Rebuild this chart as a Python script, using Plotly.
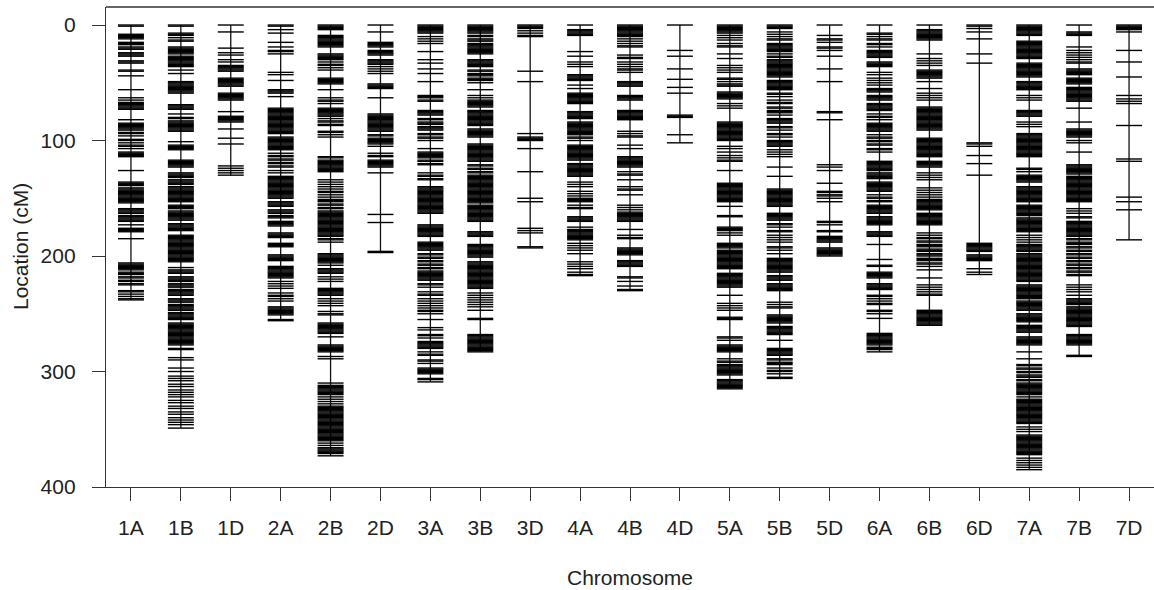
import plotly.graph_objects as go

# Chromosome names and linkage-group lengths (cM)
chromosomes = ["1A", "1B", "1D", "2A", "2B", "2D", "3A", "3B", "3D", "4A", "4B",
               "4D", "5A", "5B", "5D", "6A", "6B", "6D", "7A", "7B", "7D"]
lengths = [238, 349, 130, 256, 373, 197, 309, 283, 193, 217, 230,
           102, 315, 306, 200, 283, 260, 216, 385, 287, 186]
y_ticks = [0, 100, 200, 300, 400]

# Marker positions (cM) on each chromosome
m_1A = [0, 1, 8, 9, 10, 11, 12, 15, 16, 17, 19, 20, 21, 24, 25, 26, 27, 31, 32, 33, 39, 40, 44, 56,
        63, 65, 67, 68, 69, 70, 71, 72, 73, 82, 85, 86, 87, 88, 89, 90, 91, 93, 94, 96, 99, 100, 102,
        104, 105, 107, 110, 111, 112, 113, 114, 126, 136, 137, 138, 139, 141, 142, 143, 144, 145, 146,
        147, 148, 149, 150, 151, 152, 153, 154, 159, 160, 161, 162, 163, 165, 166, 167, 168, 169, 170,
        173, 176, 177, 178, 179, 185, 206, 207, 208, 209, 210, 211, 212, 214, 215, 216, 218, 219, 221,
        222, 224, 225, 230, 231, 233, 235, 237, 238]
m_1B = [0, 1, 7, 8, 9, 11, 13, 14, 19, 20, 21, 22, 23, 24, 25, 27, 28, 29, 30, 31, 32, 33, 34, 35, 36,
        39, 42, 49, 50, 51, 52, 53, 54, 55, 56, 57, 58, 59, 69, 70, 71, 72, 73, 77, 80, 81, 83, 84, 85,
        86, 87, 88, 89, 90, 91, 92, 101, 104, 105, 106, 107, 108, 117, 118, 119, 120, 121, 122, 123,
        128, 129, 130, 131, 132, 134, 135, 136, 137, 138, 140, 141, 142, 143, 144, 145, 146, 147, 148,
        149, 150, 151, 152, 153, 156, 157, 158, 159, 161, 162, 163, 164, 165, 166, 167, 168, 169, 172,
        173, 174, 175, 176, 177, 178, 182, 183, 184, 185, 186, 187, 188, 189, 190, 191, 192, 193, 194,
        195, 196, 197, 198, 199, 200, 201, 202, 203, 204, 205, 210, 212, 213, 214, 215, 218, 219, 220,
        221, 222, 224, 225, 226, 227, 229, 230, 231, 232, 233, 234, 237, 238, 239, 240, 242, 243, 244,
        245, 246, 247, 249, 250, 251, 252, 253, 254, 255, 258, 259, 260, 261, 262, 263, 264, 265, 266,
        267, 268, 269, 270, 271, 272, 273, 274, 275, 276, 277, 280, 281, 288, 290, 297, 300, 304, 306,
        308, 311, 313, 316, 318, 320, 322, 325, 327, 330, 332, 335, 337, 340, 342, 344, 346, 349]
m_1D = [0, 6, 20, 24, 26, 30, 32, 35, 36, 37, 38, 39, 40, 46, 47, 48, 49, 50, 51, 52, 53, 59, 60, 61,
        62, 63, 64, 65, 75, 79, 80, 81, 82, 83, 84, 90, 98, 103, 122, 124, 126, 128, 130]
m_2A = [0, 1, 4, 7, 15, 19, 22, 23, 25, 41, 43, 48, 56, 57, 58, 59, 62, 72, 73, 74, 75, 76, 77, 78, 79,
        80, 81, 82, 83, 84, 85, 86, 87, 88, 89, 90, 91, 92, 93, 94, 97, 98, 99, 100, 101, 102, 103, 104,
        105, 106, 107, 108, 111, 113, 114, 116, 117, 119, 120, 122, 123, 126, 128, 131, 132, 133, 134,
        135, 136, 137, 138, 139, 140, 141, 142, 143, 144, 145, 146, 147, 148, 149, 150, 153, 154, 155,
        156, 157, 160, 161, 162, 163, 165, 166, 167, 170, 171, 172, 173, 174, 180, 181, 182, 183, 184,
        189, 190, 191, 192, 199, 200, 201, 202, 203, 204, 209, 210, 211, 212, 213, 214, 215, 216, 217,
        218, 219, 222, 224, 226, 228, 232, 234, 235, 237, 239, 244, 245, 246, 247, 248, 249, 250, 251,
        255, 256]
m_2B = [0, 1, 2, 3, 4, 9, 10, 11, 12, 13, 14, 15, 16, 17, 18, 19, 25, 26, 27, 28, 29, 30, 32, 34, 35,
        37, 39, 46, 47, 48, 49, 50, 51, 56, 63, 65, 66, 68, 72, 73, 74, 75, 76, 77, 78, 79, 81, 83, 84,
        86, 87, 92, 93, 95, 97, 114, 115, 117, 118, 119, 120, 121, 122, 123, 124, 125, 126, 127, 134,
        136, 138, 140, 142, 144, 145, 147, 149, 151, 152, 153, 155, 156, 158, 159, 161, 162, 163, 164,
        165, 166, 167, 168, 169, 170, 171, 172, 173, 174, 175, 176, 177, 178, 179, 180, 181, 182, 183,
        185, 186, 188, 198, 199, 200, 201, 202, 203, 204, 205, 206, 208, 211, 212, 213, 214, 215, 218,
        220, 222, 228, 229, 230, 231, 232, 233, 234, 237, 239, 241, 243, 248, 250, 251, 258, 259, 260,
        261, 262, 263, 264, 265, 266, 267, 270, 277, 278, 279, 280, 281, 282, 283, 287, 289, 310, 312,
        313, 314, 315, 316, 317, 318, 319, 320, 322, 324, 326, 328, 330, 331, 332, 333, 334, 335, 336,
        337, 338, 339, 340, 341, 342, 343, 344, 345, 346, 347, 348, 349, 350, 351, 352, 353, 354, 355,
        356, 357, 358, 359, 360, 362, 364, 366, 367, 368, 369, 370, 371, 373]
m_2D = [0, 6, 15, 16, 17, 18, 19, 22, 23, 24, 25, 26, 30, 31, 32, 33, 34, 36, 38, 40, 42, 51, 52, 53,
        54, 55, 63, 77, 78, 79, 80, 81, 82, 83, 84, 85, 86, 87, 88, 89, 90, 91, 92, 95, 96, 98, 99, 100,
        101, 102, 103, 105, 111, 113, 114, 117, 118, 119, 120, 121, 122, 123, 128, 164, 171, 196, 197]
m_3A = [0, 1, 2, 3, 4, 5, 6, 7, 10, 12, 14, 16, 23, 30, 33, 38, 42, 49, 61, 62, 63, 65, 66, 74, 75, 76,
        77, 78, 81, 82, 84, 85, 86, 88, 89, 90, 91, 94, 95, 97, 98, 100, 107, 110, 111, 112, 113, 114,
        115, 117, 118, 120, 121, 128, 130, 131, 133, 134, 140, 141, 142, 143, 144, 145, 146, 147, 148,
        149, 150, 151, 152, 153, 154, 155, 156, 157, 158, 159, 160, 161, 162, 163, 173, 174, 175, 176,
        177, 178, 179, 180, 181, 182, 183, 188, 189, 190, 191, 192, 193, 194, 195, 198, 199, 201, 202,
        204, 205, 207, 208, 210, 211, 213, 214, 215, 216, 217, 218, 219, 220, 221, 224, 225, 227, 231,
        233, 234, 237, 239, 241, 243, 245, 247, 248, 250, 255, 262, 264, 268, 269, 271, 274, 275, 276,
        277, 278, 279, 280, 283, 285, 286, 290, 291, 293, 297, 298, 299, 300, 301, 302, 306, 307, 309]
m_3B = [0, 1, 2, 3, 4, 5, 6, 7, 9, 10, 12, 13, 14, 16, 17, 18, 19, 20, 21, 22, 23, 24, 25, 30, 31, 32,
        33, 34, 35, 36, 39, 40, 42, 43, 44, 46, 47, 48, 50, 56, 61, 63, 65, 66, 67, 68, 69, 70, 71, 74,
        75, 76, 77, 78, 79, 80, 81, 82, 83, 84, 85, 86, 87, 90, 91, 92, 93, 94, 95, 96, 97, 103, 104,
        105, 106, 107, 108, 109, 110, 111, 112, 113, 114, 115, 116, 117, 118, 121, 122, 124, 125, 127,
        128, 130, 131, 132, 133, 134, 135, 136, 137, 138, 139, 140, 141, 142, 143, 144, 145, 146, 147,
        148, 149, 150, 151, 152, 153, 154, 156, 157, 158, 159, 160, 161, 162, 163, 164, 165, 166, 167,
        168, 169, 170, 179, 180, 181, 182, 183, 190, 191, 192, 193, 194, 195, 196, 197, 198, 199, 200,
        201, 205, 206, 207, 208, 209, 210, 211, 212, 213, 214, 215, 216, 217, 218, 219, 220, 221, 222,
        223, 224, 225, 226, 227, 228, 232, 234, 236, 238, 240, 242, 244, 247, 254, 255, 268, 269, 270,
        271, 272, 273, 274, 275, 276, 277, 278, 279, 280, 281, 282, 283]
m_3D = [0, 1, 2, 3, 5, 7, 9, 10, 40, 49, 94, 97, 98, 99, 100, 107, 127, 150, 153, 176, 178, 180, 192,
        193]
m_4A = [0, 4, 5, 6, 7, 8, 9, 23, 27, 32, 34, 36, 43, 44, 45, 46, 47, 48, 52, 55, 59, 60, 61, 62, 63,
        64, 65, 66, 67, 68, 75, 76, 77, 78, 79, 80, 81, 84, 85, 86, 87, 88, 89, 90, 91, 92, 93, 94, 95,
        97, 98, 100, 104, 105, 106, 107, 108, 109, 110, 111, 112, 113, 114, 115, 116, 117, 120, 121,
        122, 123, 124, 125, 126, 127, 128, 129, 130, 131, 136, 138, 140, 144, 146, 148, 150, 151, 152,
        153, 156, 158, 159, 166, 167, 168, 169, 170, 175, 177, 178, 179, 180, 181, 182, 183, 184, 185,
        186, 189, 191, 193, 195, 198, 205, 207, 209, 211, 214, 216, 217]
m_4B = [0, 1, 2, 3, 4, 5, 6, 7, 8, 9, 10, 12, 14, 16, 18, 19, 26, 28, 29, 32, 34, 36, 38, 39, 41, 49,
        50, 51, 52, 53, 61, 62, 63, 64, 65, 74, 75, 76, 77, 78, 79, 80, 81, 82, 92, 94, 96, 97, 104,
        107, 114, 115, 116, 117, 118, 119, 120, 121, 122, 123, 127, 129, 130, 134, 140, 142, 143, 147,
        156, 158, 160, 162, 163, 164, 165, 166, 167, 168, 169, 170, 177, 182, 184, 185, 193, 194, 195,
        196, 197, 198, 199, 204, 205, 206, 207, 208, 209, 218, 219, 222, 226, 229, 230]
m_4D = [0, 22, 27, 38, 47, 54, 59, 78, 79, 80, 95, 102]
m_5A = [0, 1, 2, 3, 4, 5, 6, 7, 9, 11, 13, 16, 18, 19, 25, 29, 35, 37, 39, 41, 46, 47, 49, 51, 52, 53,
        58, 59, 60, 61, 62, 63, 64, 68, 70, 72, 84, 85, 86, 87, 88, 89, 90, 91, 92, 93, 94, 95, 96, 97,
        98, 99, 100, 105, 107, 110, 113, 115, 117, 118, 126, 137, 138, 139, 140, 141, 142, 143, 144,
        145, 146, 147, 148, 149, 150, 151, 152, 153, 157, 165, 166, 175, 176, 177, 178, 180, 182, 189,
        190, 191, 192, 193, 195, 196, 197, 198, 199, 200, 201, 202, 203, 204, 205, 206, 207, 208, 209,
        210, 211, 215, 216, 217, 218, 219, 220, 221, 222, 223, 224, 225, 226, 227, 234, 241, 243, 245,
        247, 253, 254, 255, 270, 271, 273, 277, 278, 279, 280, 281, 282, 283, 289, 291, 292, 294, 295,
        296, 297, 298, 299, 300, 301, 302, 303, 307, 308, 309, 310, 311, 312, 313, 314, 315]
m_5B = [0, 1, 2, 3, 6, 8, 10, 12, 13, 16, 17, 18, 19, 20, 21, 22, 23, 25, 27, 28, 30, 31, 32, 33, 34,
        35, 36, 37, 38, 39, 40, 41, 42, 43, 44, 45, 48, 49, 50, 51, 52, 53, 54, 55, 56, 59, 60, 62, 65,
        67, 68, 71, 72, 74, 75, 76, 78, 81, 82, 83, 84, 85, 88, 89, 91, 94, 95, 97, 100, 101, 102, 103,
        104, 105, 108, 110, 112, 114, 123, 131, 142, 143, 144, 145, 146, 147, 148, 149, 150, 151, 152,
        153, 154, 155, 156, 157, 163, 164, 165, 166, 167, 168, 169, 172, 173, 175, 178, 179, 182, 184,
        186, 188, 192, 193, 195, 198, 202, 203, 204, 205, 206, 207, 208, 209, 210, 211, 212, 213, 214,
        217, 218, 219, 220, 221, 224, 225, 226, 227, 228, 229, 230, 240, 242, 244, 245, 251, 252, 253,
        254, 255, 256, 257, 258, 261, 262, 263, 264, 265, 266, 267, 268, 273, 280, 281, 282, 283, 284,
        285, 286, 289, 290, 292, 293, 294, 297, 299, 300, 302, 305, 306]
m_5D = [0, 9, 12, 13, 15, 19, 20, 22, 27, 38, 49, 75, 76, 82, 121, 123, 126, 137, 144, 145, 147, 148,
        150, 153, 170, 171, 173, 178, 179, 183, 184, 185, 186, 187, 188, 193, 194, 195, 196, 197, 198,
        199, 200]
m_6A = [0, 7, 8, 10, 12, 13, 16, 17, 19, 22, 23, 24, 25, 26, 27, 28, 32, 33, 34, 35, 36, 41, 43, 46,
        48, 50, 52, 55, 56, 57, 58, 61, 62, 63, 64, 65, 68, 69, 70, 71, 72, 73, 74, 77, 79, 80, 82, 85,
        86, 87, 88, 89, 90, 91, 92, 95, 97, 98, 100, 101, 103, 104, 107, 108, 110, 118, 119, 120, 121,
        122, 123, 124, 125, 126, 128, 129, 130, 131, 132, 133, 136, 137, 138, 139, 140, 141, 142, 143,
        144, 147, 149, 150, 152, 153, 156, 157, 158, 159, 160, 161, 162, 163, 166, 167, 168, 169, 170,
        171, 172, 173, 179, 180, 181, 182, 183, 190, 203, 208, 209, 214, 215, 216, 217, 218, 219, 224,
        225, 226, 227, 228, 229, 234, 235, 237, 239, 241, 242, 247, 248, 250, 254, 267, 268, 269, 270,
        271, 272, 273, 274, 275, 276, 277, 279, 280, 281, 283]
m_6B = [0, 4, 5, 6, 7, 8, 9, 10, 11, 12, 13, 25, 29, 31, 33, 35, 39, 40, 41, 42, 43, 44, 45, 46, 49,
        55, 59, 61, 63, 65, 71, 72, 73, 74, 75, 76, 77, 78, 79, 80, 81, 82, 83, 84, 85, 86, 87, 88, 89,
        90, 91, 98, 99, 100, 101, 102, 103, 104, 105, 106, 107, 108, 109, 110, 111, 112, 113, 114, 118,
        119, 120, 121, 122, 123, 128, 130, 132, 134, 141, 143, 145, 147, 149, 151, 152, 153, 154, 155,
        156, 157, 158, 159, 160, 163, 164, 165, 166, 167, 168, 169, 170, 171, 172, 173, 180, 182, 184,
        185, 187, 188, 190, 191, 192, 194, 195, 196, 198, 199, 200, 202, 203, 204, 206, 207, 209, 212,
        219, 225, 227, 229, 231, 233, 234, 247, 248, 249, 250, 251, 252, 253, 254, 255, 256, 257, 258,
        259, 260]
m_6D = [0, 1, 3, 6, 12, 25, 33, 102, 103, 105, 113, 120, 130, 189, 190, 191, 192, 193, 194, 195, 196,
        199, 200, 201, 202, 203, 204, 211, 214, 216]
m_7A = [0, 1, 2, 3, 4, 5, 6, 7, 8, 9, 14, 15, 16, 17, 18, 19, 20, 21, 22, 23, 24, 25, 26, 27, 28, 29,
        33, 34, 35, 36, 37, 38, 39, 40, 41, 42, 43, 44, 45, 49, 50, 51, 52, 53, 54, 55, 56, 61, 63, 65,
        74, 75, 76, 77, 78, 79, 84, 86, 88, 94, 95, 96, 97, 98, 99, 100, 101, 102, 103, 104, 105, 106,
        107, 108, 109, 110, 111, 112, 113, 114, 124, 125, 127, 130, 131, 132, 133, 134, 135, 136, 140,
        141, 142, 143, 144, 145, 146, 147, 148, 149, 150, 151, 152, 153, 156, 157, 158, 159, 160, 161,
        162, 163, 164, 165, 167, 168, 169, 170, 171, 172, 173, 174, 175, 176, 177, 178, 179, 182, 184,
        186, 188, 190, 191, 192, 193, 194, 195, 196, 198, 199, 200, 201, 202, 203, 204, 205, 206, 207,
        208, 209, 210, 211, 212, 213, 214, 215, 216, 217, 218, 219, 220, 221, 222, 225, 226, 227, 228,
        229, 230, 231, 232, 233, 234, 235, 236, 237, 239, 240, 241, 242, 243, 244, 245, 246, 247, 250,
        251, 252, 253, 254, 255, 256, 257, 260, 261, 262, 263, 264, 265, 266, 270, 271, 272, 273, 274,
        275, 276, 277, 283, 289, 294, 295, 297, 298, 300, 301, 303, 304, 305, 307, 308, 310, 311, 312,
        313, 314, 315, 316, 317, 318, 319, 320, 322, 324, 325, 326, 327, 328, 329, 330, 331, 332, 333,
        334, 335, 336, 337, 338, 339, 340, 341, 342, 343, 344, 345, 348, 350, 352, 355, 356, 357, 358,
        359, 360, 361, 362, 363, 364, 365, 366, 367, 368, 369, 370, 371, 372, 375, 377, 379, 381, 383,
        385]
m_7B = [0, 6, 7, 8, 9, 19, 22, 24, 26, 28, 30, 32, 33, 38, 39, 40, 41, 42, 43, 46, 47, 48, 49, 50, 51,
        54, 55, 56, 57, 58, 59, 60, 61, 62, 63, 64, 65, 66, 72, 84, 90, 91, 92, 93, 94, 95, 96, 97, 100,
        102, 110, 121, 122, 123, 124, 125, 126, 127, 128, 129, 131, 132, 133, 134, 135, 136, 137, 138,
        139, 140, 141, 142, 143, 144, 145, 146, 147, 148, 149, 150, 151, 152, 153, 159, 161, 163, 166,
        167, 170, 171, 172, 173, 174, 175, 176, 177, 178, 179, 180, 181, 182, 183, 185, 186, 188, 189,
        190, 192, 193, 195, 196, 198, 199, 201, 202, 204, 205, 207, 208, 210, 211, 213, 214, 216, 217,
        225, 227, 229, 231, 234, 237, 238, 239, 240, 241, 242, 244, 245, 246, 247, 248, 249, 250, 251,
        252, 253, 254, 255, 256, 257, 258, 259, 260, 261, 268, 269, 270, 271, 272, 273, 274, 275, 276,
        277, 286, 287]
m_7D = [0, 1, 2, 3, 4, 6, 22, 32, 45, 61, 64, 66, 68, 87, 116, 118, 149, 153, 160, 186]

markers = [m_1A, m_1B, m_1D, m_2A, m_2B, m_2D, m_3A, m_3B, m_3D, m_4A, m_4B,
           m_4D, m_5A, m_5B, m_5D, m_6A, m_6B, m_6D, m_7A, m_7B, m_7D]

HALF = 0.26  # half width of a marker tick, in chromosome-slot units
AXIS_COLOR = "#333333"
TEXT_COLOR = "#222222"
FONT = "Liberation Sans, Arial, sans-serif"

# Figure size and plot region in pixels (used to place the axis titles in the margins)
W, H = 1154, 590
ML, MR, MT, MB = 106, 0, 7, 103
PW, PH = W - ML - MR, H - MT - MB
PLOT_BOTTOM = MT + PH          # pixel row of the x axis
XTITLE_Y_PX = 577              # pixel row of the x-axis title centre
YTITLE_X_PX = 20               # pixel column of the y-axis title centre

# Chromosome backbones
bx, by = [], []
for i, L in enumerate(lengths):
    bx += [i, i, None]
    by += [0, L, None]

# Marker ticks
tx, ty = [], []
for i, pos in enumerate(markers):
    for p in pos:
        tx += [i - HALF, i + HALF, None]
        ty += [p, p, None]

fig = go.Figure()
fig.add_trace(go.Scatter(x=bx, y=by, mode="lines",
                         line=dict(color="#111111", width=1.3),
                         hoverinfo="skip", showlegend=False))
fig.add_trace(go.Scatter(x=tx, y=ty, mode="lines",
                         line=dict(color="#000000", width=1.4),
                         hoverinfo="skip", showlegend=False))

fig.update_layout(
    width=W, height=H,
    margin=dict(l=ML, r=MR, t=MT, b=MB),
    paper_bgcolor="white", plot_bgcolor="white",
    font=dict(family=FONT, color=TEXT_COLOR, size=21),
    xaxis=dict(
        range=[-0.5, 20.5],
        tickmode="array", tickvals=list(range(len(chromosomes))), ticktext=chromosomes,
        ticks="outside", ticklen=13, tickwidth=1.3, tickcolor=AXIS_COLOR,
        ticklabelstandoff=9,
        showline=True, linecolor=AXIS_COLOR, linewidth=1.3, mirror=False,
        showgrid=False, zeroline=False,
        tickfont=dict(size=21),
    ),
    yaxis=dict(
        range=[400, -15.6],
        tickmode="array", tickvals=y_ticks,
        ticks="outside", ticklen=13, tickwidth=1.3, tickcolor=AXIS_COLOR,
        ticklabelstandoff=12,
        showline=True, linecolor=AXIS_COLOR, linewidth=1.3, mirror=False,
        showgrid=False, zeroline=False,
        tickfont=dict(size=21),
    ),
    # top edge of the plot frame
    shapes=[dict(type="line", xref="paper", yref="paper", x0=0, x1=1, y0=1, y1=1,
                 line=dict(color=AXIS_COLOR, width=1.3))],
    annotations=[
        dict(text="Chromosome", xref="paper", yref="paper",
             x=0.5, y=(PLOT_BOTTOM - XTITLE_Y_PX) / PH,
             xanchor="center", yanchor="middle",
             showarrow=False, font=dict(size=21, color=TEXT_COLOR)),
        dict(text="Location (cM)", xref="paper", yref="paper",
             x=(YTITLE_X_PX - ML) / PW, y=0.5,
             xanchor="center", yanchor="middle", textangle=-90,
             showarrow=False, font=dict(size=21, color=TEXT_COLOR)),
    ],
)

fig.write_html("out.html")
